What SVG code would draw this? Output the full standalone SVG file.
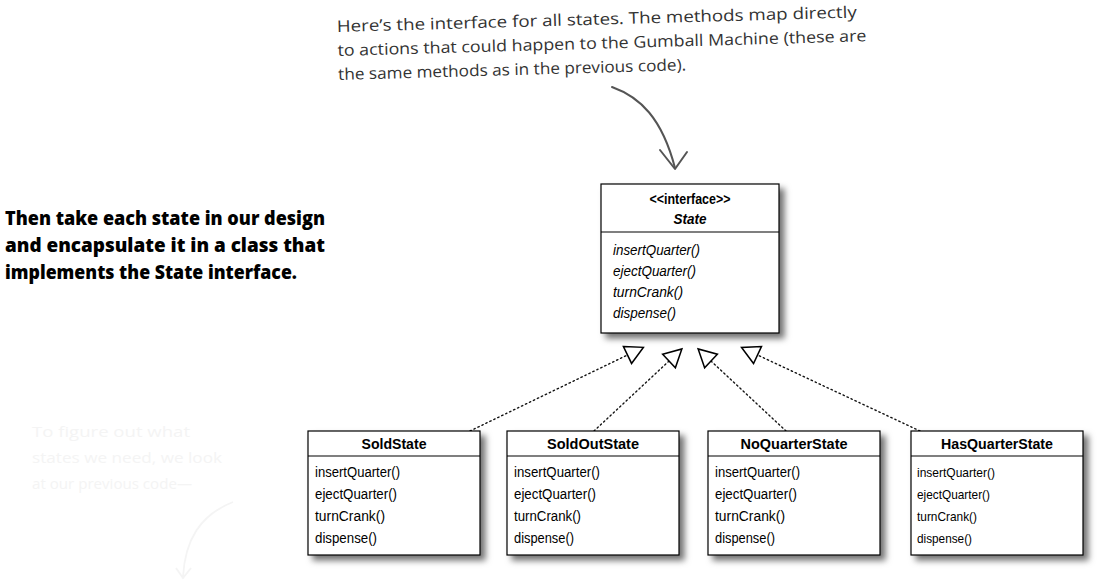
<svg xmlns="http://www.w3.org/2000/svg" width="1097" height="584" viewBox="0 0 1097 584">
<style>
.box{fill:#fff;stroke:#000;stroke-width:1.2;filter:url(#sh)}
.sep{stroke:#000;stroke-width:1.2}
.ttl{font-family:"Liberation Sans",Arial,sans-serif;font-weight:bold;font-size:15px;text-anchor:middle;fill:#000}
.m{font-family:"Liberation Sans",Arial,sans-serif;font-size:14px;fill:#000}
.m2{font-family:"Liberation Sans",Arial,sans-serif;font-size:13px;fill:#000}
.mi{font-family:"Liberation Sans",Arial,sans-serif;font-size:14px;font-style:italic;fill:#000}
.hand{font-family:"Open Sans","DejaVu Sans",sans-serif;font-size:16px;fill:#333}
.big{font-family:"Open Sans","Liberation Sans",sans-serif;font-weight:800;font-size:19px;fill:#000}
.ghost{font-family:"Open Sans","DejaVu Sans",sans-serif;font-size:15px;fill:#f4f4f4}
.dot{fill:none;stroke:#111;stroke-width:1.4;stroke-dasharray:1.4 3;stroke-linecap:round}
</style>
<defs>
<filter id="sh" x="-10%" y="-10%" width="130%" height="130%">
<feDropShadow dx="5" dy="5" stdDeviation="3" flood-color="#000" flood-opacity="0.55"/>
</filter>
<marker id="tri" markerUnits="userSpaceOnUse" markerWidth="22" markerHeight="22" viewBox="-1 -10 19 20" refX="0" refY="0" orient="auto">
<path d="M0,-8.5 L16,0 L0,8.5 Z" fill="#fff" stroke="#000" stroke-width="1.4" stroke-linejoin="miter"/>
</marker>
</defs>
<rect width="1097" height="584" fill="#fff"/>

<g id="callout-top">
<g transform="rotate(-1.6 337 32)">
<text class="hand" x="337" y="32" textLength="520" lengthAdjust="spacingAndGlyphs">Here’s the interface for all states.  The methods map directly</text>
<text class="hand" x="337" y="56" textLength="529" lengthAdjust="spacingAndGlyphs">to actions that could happen to the Gumball Machine (these are</text>
<text class="hand" x="337" y="80" textLength="348" lengthAdjust="spacingAndGlyphs">the same methods as in the previous code).</text>
</g>
<path d="M612,87 C640,97 662,118 675,168" fill="none" stroke="#555" stroke-width="2" stroke-linecap="round"/>
<path d="M660,150 L675,169 L687,152" fill="none" stroke="#555" stroke-width="2" stroke-linecap="round" stroke-linejoin="round"/>
</g>

<g id="note-left">
<text class="big" x="5" y="225" textLength="320" lengthAdjust="spacingAndGlyphs">Then take each state in our design</text>
<text class="big" x="5" y="252" textLength="320" lengthAdjust="spacingAndGlyphs">and encapsulate it in a class that</text>
<text class="big" x="5" y="279" textLength="292" lengthAdjust="spacingAndGlyphs">implements the State interface.</text>
</g>

<g id="ghost-note">
<text class="ghost" x="32" y="437" textLength="158" lengthAdjust="spacingAndGlyphs">To figure out what</text>
<text class="ghost" x="32" y="463" textLength="190" lengthAdjust="spacingAndGlyphs">states we need, we look</text>
<text class="ghost" x="32" y="489" textLength="160" lengthAdjust="spacingAndGlyphs">at our previous code—</text>
<path d="M233,502 C200,515 185,540 183,577 M176,568 L183,578 L191,568" fill="none" stroke="#f4f4f4" stroke-width="1.8"/>
</g>

<g id="connectors">
<path class="dot" d="M470,431 L627.5,355" marker-end="url(#tri)"/>
<path class="dot" d="M594,431 L669,361" marker-end="url(#tri)"/>
<path class="dot" d="M786,431 L711,361" marker-end="url(#tri)"/>
<path class="dot" d="M920,431 L757.5,355" marker-end="url(#tri)"/>
</g>

<g id="State">
<rect class="box" x="601" y="184" width="178" height="149"/>
<line class="sep" x1="601" y1="232" x2="779" y2="232"/>
<text class="ttl" x="690" y="204" font-size="13" textLength="81" lengthAdjust="spacingAndGlyphs">&lt;&lt;interface&gt;&gt;</text>
<text class="ttl" x="690" y="224" font-style="italic" textLength="33" lengthAdjust="spacingAndGlyphs">State</text>
<text class="mi" x="613" y="255" textLength="87" lengthAdjust="spacingAndGlyphs">insertQuarter()</text>
<text class="mi" x="613" y="276" textLength="83" lengthAdjust="spacingAndGlyphs">ejectQuarter()</text>
<text class="mi" x="613" y="297" textLength="70" lengthAdjust="spacingAndGlyphs">turnCrank()</text>
<text class="mi" x="613" y="318" textLength="63" lengthAdjust="spacingAndGlyphs">dispense()</text>
</g>

<g id="SoldState">
<rect class="box" x="308" y="431" width="172" height="124"/>
<line class="sep" x1="308" y1="456" x2="480" y2="456"/>
<text class="ttl" x="394" y="449" textLength="65" lengthAdjust="spacingAndGlyphs">SoldState</text>
<text class="m" x="315" y="477" textLength="85" lengthAdjust="spacingAndGlyphs">insertQuarter()</text>
<text class="m" x="315" y="499" textLength="82" lengthAdjust="spacingAndGlyphs">ejectQuarter()</text>
<text class="m" x="315" y="521" textLength="70" lengthAdjust="spacingAndGlyphs">turnCrank()</text>
<text class="m" x="315" y="543" textLength="62" lengthAdjust="spacingAndGlyphs">dispense()</text>
</g>

<g id="SoldOutState">
<rect class="box" x="507" y="431" width="172" height="124"/>
<line class="sep" x1="507" y1="456" x2="679" y2="456"/>
<text class="ttl" x="593" y="449" textLength="92" lengthAdjust="spacingAndGlyphs">SoldOutState</text>
<text class="m" x="514" y="477" textLength="86" lengthAdjust="spacingAndGlyphs">insertQuarter()</text>
<text class="m" x="514" y="499" textLength="82" lengthAdjust="spacingAndGlyphs">ejectQuarter()</text>
<text class="m" x="514" y="521" textLength="67" lengthAdjust="spacingAndGlyphs">turnCrank()</text>
<text class="m" x="514" y="543" textLength="60" lengthAdjust="spacingAndGlyphs">dispense()</text>
</g>

<g id="NoQuarterState">
<rect class="box" x="708" y="431" width="172" height="124"/>
<line class="sep" x1="708" y1="456" x2="880" y2="456"/>
<text class="ttl" x="794" y="449" textLength="107" lengthAdjust="spacingAndGlyphs">NoQuarterState</text>
<text class="m" x="715" y="477" textLength="85" lengthAdjust="spacingAndGlyphs">insertQuarter()</text>
<text class="m" x="715" y="499" textLength="82" lengthAdjust="spacingAndGlyphs">ejectQuarter()</text>
<text class="m" x="715" y="521" textLength="70" lengthAdjust="spacingAndGlyphs">turnCrank()</text>
<text class="m" x="715" y="543" textLength="60" lengthAdjust="spacingAndGlyphs">dispense()</text>
</g>

<g id="HasQuarterState">
<rect class="box" x="911" y="431" width="172" height="124"/>
<line class="sep" x1="911" y1="456" x2="1083" y2="456"/>
<text class="ttl" x="997" y="449" textLength="112" lengthAdjust="spacingAndGlyphs">HasQuarterState</text>
<text class="m2" x="917" y="477" textLength="78" lengthAdjust="spacingAndGlyphs">insertQuarter()</text>
<text class="m2" x="917" y="499" textLength="73" lengthAdjust="spacingAndGlyphs">ejectQuarter()</text>
<text class="m2" x="917" y="521" textLength="60" lengthAdjust="spacingAndGlyphs">turnCrank()</text>
<text class="m2" x="917" y="543" textLength="55" lengthAdjust="spacingAndGlyphs">dispense()</text>
</g>
</svg>
